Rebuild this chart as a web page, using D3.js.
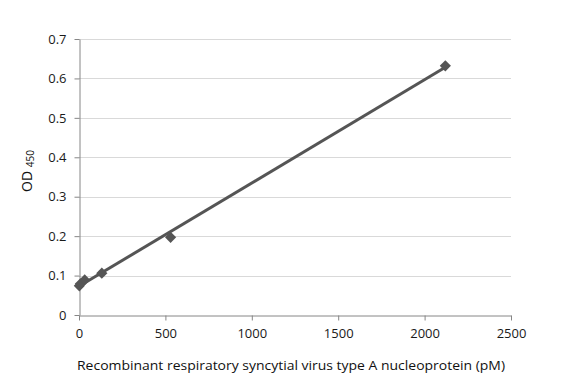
<!DOCTYPE html>
<html><head><meta charset="utf-8">
<script src="https://cdn.jsdelivr.net/npm/d3@7"></script>
<style>body{margin:0;background:#fff}svg{display:block}text{font-family:"Open Sans",sans-serif}</style>
</head><body>
<svg id="c" width="582" height="382"></svg>
<script>
const concentration = [2, 8.3, 33, 132, 530, 2120];
const od450 = [0.074, 0.079, 0.089, 0.106, 0.197, 0.632];
const xTicks = [0, 500, 1000, 1500, 2000, 2500];
const yTicks = [0, 0.1, 0.2, 0.3, 0.4, 0.5, 0.6, 0.7];
const xTitle = "Recombinant respiratory syncytial virus type A nucleoprotein (pM)";

const svg = d3.select("#c");
const L = 79, R = 511, T = 39, B = 315;
const x = d3.scaleLinear().domain([0, 2500]).range([L, R]);
const y = d3.scaleLinear().domain([0, 0.7]).range([B, T]);

// gridlines
svg.append("g").selectAll("line").data(yTicks.filter(d => d > 0)).join("line")
  .attr("x1", L).attr("x2", R).attr("y1", d => Math.round(y(d)) + 0.5).attr("y2", d => Math.round(y(d)) + 0.5)
  .attr("stroke", "#d9d9d9").attr("stroke-width", 1);

// axes
const xa = svg.append("g").attr("transform", `translate(0,${B + 0.5})`)
  .call(d3.axisBottom(x).tickValues(xTicks).tickFormat(d3.format("d")).tickSizeInner(5).tickSizeOuter(0).tickPadding(8));
const ya = svg.append("g").attr("transform", `translate(${L + 0.5},0)`)
  .call(d3.axisLeft(y).tickValues(yTicks).tickFormat(d => d === 0 ? "0" : d3.format(".1f")(d)).tickSizeInner(5).tickSizeOuter(0).tickPadding(8));
[xa, ya].forEach(a => {
  a.select(".domain").attr("stroke", "#868686");
  a.selectAll(".tick line").attr("stroke", "#868686");
  a.selectAll(".tick text").attr("fill", "#1a1a1a").style("font-size", "13px");
});

// linear trendline from data
const n = concentration.length;
const mx = d3.mean(concentration), my = d3.mean(od450);
let sxy = 0, sxx = 0;
for (let i = 0; i < n; i++) { sxy += (concentration[i] - mx) * (od450[i] - my); sxx += (concentration[i] - mx) ** 2; }
const slope = sxy / sxx, icpt = my - slope * mx;
const x0 = 0, x1 = d3.max(concentration);
svg.append("line")
  .attr("x1", x(x0)).attr("y1", y(icpt + slope * x0))
  .attr("x2", x(x1)).attr("y2", y(icpt + slope * x1))
  .attr("stroke", "#555").attr("stroke-width", 3);

// markers
svg.append("g").selectAll("path").data(concentration.map((c, i) => [c, od450[i]])).join("path")
  .attr("d", d3.symbol(d3.symbolDiamond2, 80))
  .attr("transform", d => `translate(${x(d[0])},${y(d[1])})`)
  .attr("fill", "#555");

// y title
const yt = svg.append("text").attr("transform", "translate(32,171) rotate(-90)")
  .attr("text-anchor", "middle").attr("fill", "#111").style("font-size", "14px");
yt.append("tspan").text("OD ");
yt.append("tspan").text("450").style("font-size", "10px").attr("dy", 2);

// x title
svg.append("text").attr("x", 291).attr("y", 370).attr("text-anchor", "middle")
  .attr("fill", "#111").style("font-size", "13.5px").attr("textLength", 428).attr("lengthAdjust", "spacingAndGlyphs")
  .text(xTitle);
</script>
</body></html>
